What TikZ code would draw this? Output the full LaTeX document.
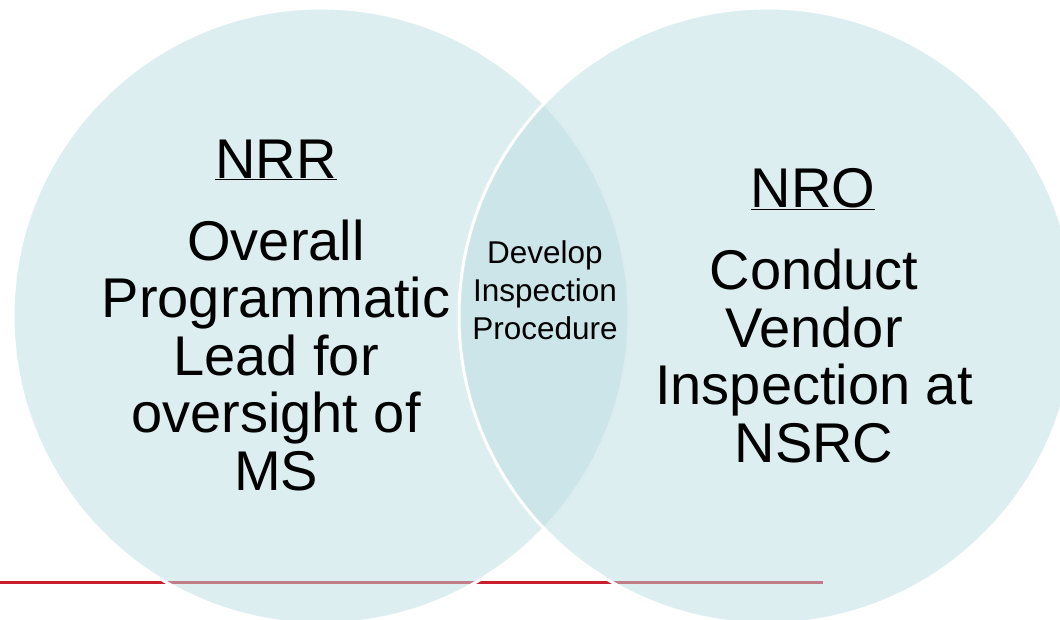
\documentclass[tikz,border=0pt]{standalone}
\usepackage{fontspec}
\setmainfont{Liberation Sans}
\usetikzlibrary{positioning}
\definecolor{vennfill}{RGB}{187,221,225}
\definecolor{barred}{RGB}{200,30,45}

\begin{document}
\begin{tikzpicture}
[x=1pt,y=-1pt,
 set/.style={circle,draw=white,line width=3pt,fill=vennfill,fill opacity=0.5,minimum size=616pt,inner sep=0pt},
 big/.style={font=\fontsize{56}{57.5}\selectfont,align=center,inner sep=0pt},
 small/.style={font=\fontsize{31.5}{38}\selectfont,align=center,inner sep=0pt}]
  \useasboundingbox (0,0) rectangle (1060,619);

  % red rule behind the sets
  \coordinate (barL) at (0,582);
  \coordinate (barR) at (823,582);
  \draw[barred,line width=3pt] (barL) -- (barR);

  \node[set] (left)  at (321,316) {};
  \node[set] (right) at (767,316) {};

  % base anchor sits on the last line
  \node[big,anchor=base] (nrr) at (276,178) {\underline{NRR}};
  \node[big,anchor=base] (nrrtask) at (276,490)
       {Overall\\Programmatic\\Lead for\\oversight of\\MS};

  \node[big,anchor=base] (nro) at (813,207) {\underline{NRO}};
  \node[big,anchor=base] (nrotask) at (814,462)
       {Conduct\\Vendor\\Inspection at\\NSRC};

  \node[small,anchor=base] (shared) at (545,339)
       {Develop\\Inspection\\Procedure};
\end{tikzpicture}
\end{document}
